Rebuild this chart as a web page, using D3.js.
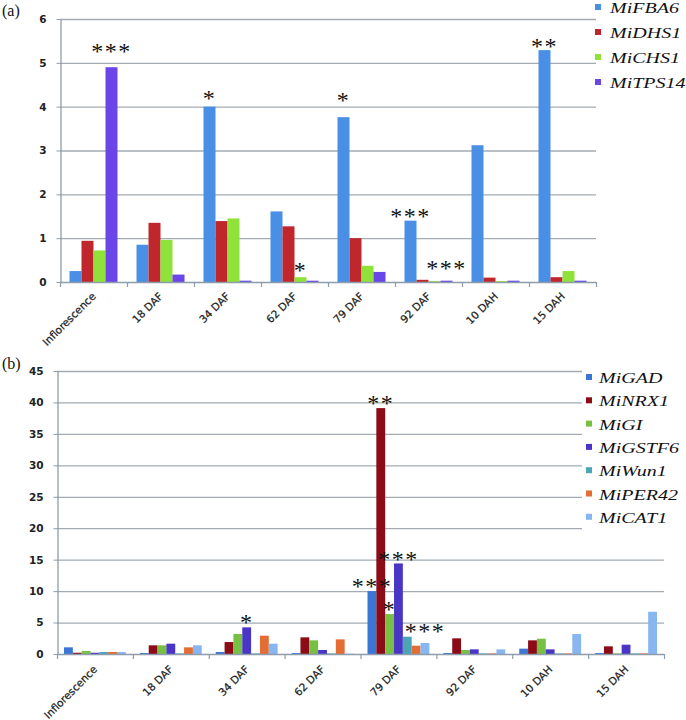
<!DOCTYPE html>
<html>
<head>
<meta charset="utf-8">
<script src="https://cdn.jsdelivr.net/npm/d3@7/dist/d3.min.js"></script>
<style>
  html, body { margin: 0; padding: 0; background: #fff; }
  svg { display: block; }
</style>
</head>
<body>
<svg id="chart" width="686" height="720"></svg>
<script>
// ---------------- DATA ----------------
const categories = ["Inflorescence", "18 DAF", "34 DAF", "62 DAF", "79 DAF", "92 DAF", "10 DAH", "15 DAH"];

// Panel (a)
const seriesA = ["MiFBA6", "MiDHS1", "MiCHS1", "MiTPS14"];
const miFBA6  = [0.25, 0.85, 4.00, 1.61, 3.76, 1.40, 3.12, 5.29];
const miDHS1  = [0.94, 1.35, 1.39, 1.27, 1.00, 0.05, 0.10, 0.11];
const miCHS1  = [0.72, 0.96, 1.45, 0.11, 0.37, 0.02, 0.02, 0.25];
const miTPS14 = [4.90, 0.17, 0.03, 0.03, 0.23, 0.03, 0.03, 0.03];
const yTicksA = [0, 1, 2, 3, 4, 5, 6];
// significance marks: [category, series, text, value where the mark sits]
const starsA = [
  ["Inflorescence", "MiTPS14", "***", 5.34],
  ["34 DAF", "MiFBA6", "*", 4.27],
  ["62 DAF", "MiCHS1", "*", 0.34],
  ["79 DAF", "MiFBA6", "*", 4.22],
  ["92 DAF", "MiFBA6", "***", 1.58],
  ["92 DAF", "MiTPS14", "***", 0.39],
  ["15 DAH", "MiFBA6", "**", 5.46]
];

// Panel (b)
const seriesB = ["MiGAD", "MiNRX1", "MiGI", "MiGSTF6", "MiWun1", "MiPER42", "MiCAT1"];
const miGAD   = [1.06, 0.15, 0.32, 0.15, 10.0, 0.15, 0.85, 0.15];
const miNRX1  = [0.20, 1.38, 1.90, 2.65, 39.1, 2.49, 2.17, 1.22];
const miGI    = [0.48, 1.38, 3.18, 2.17, 6.35, 0.64, 2.43, 0.10];
const miGSTF6 = [0.20, 1.64, 4.24, 0.64, 14.4, 0.74, 0.74, 1.48];
const miWun1  = [0.32, 0.10, 0.10, 0.10, 2.75, 0.10, 0.10, 0.10];
const miPER42 = [0.32, 1.06, 2.91, 2.33, 1.32, 0.10, 0.10, 0.10];
const miCAT1  = [0.32, 1.38, 1.64, 0.05, 1.75, 0.74, 3.18, 6.72];
const yTicksB = [0, 5, 10, 15, 20, 25, 30, 35, 40, 45];
const starsB = [
  ["34 DAF", "MiGSTF6", "*", 5.56],
  ["79 DAF", "MiGAD", "***", 11.4],
  ["79 DAF", "MiNRX1", "**", 40.5],
  ["79 DAF", "MiGI", "*", 7.6],
  ["79 DAF", "MiGSTF6", "***", 15.6],
  ["79 DAF", "MiCAT1", "***", 4.1]
];

// ---------------- STYLE ----------------
const colorsA = ["#4a8fe6", "#c0272d", "#8fe23a", "#6a45e8"];
const colorsB = ["#3a76d6", "#8b0b17", "#77c043", "#4a36c6", "#4aa6b6", "#e46c35", "#87b6f0"];
const gridColor = "#a2abb3";
const axisColor = "#8d9dab";
const labelFont = "'DejaVu Sans', Verdana, sans-serif";
const serifFont = "'Liberation Serif', 'Times New Roman', serif";

const svg = d3.select("#chart");
svg.append("rect").attr("width", 686).attr("height", 720).attr("fill", "#fff");

function drawPanel(opt) {
  const g = svg.append("g");
  const x0 = d3.scaleBand().domain(categories).range([opt.left, opt.right]).padding(0);
  const x1 = d3.scaleBand().domain(opt.series)
    .range([opt.gap, x0.bandwidth() - opt.gap]).padding(0);
  const y = d3.scaleLinear().domain([0, opt.yMax]).range([opt.bottom, opt.top]);

  // gridlines
  g.append("g").selectAll("line").data(opt.yTicks.filter(t => t > 0)).join("line")
    .attr("x1", opt.left).attr("x2", d => opt.gridEnd(y(d)))
    .attr("y1", d => y(d) + 0.5).attr("y2", d => y(d) + 0.5)
    .attr("stroke", gridColor).attr("stroke-width", 1.3);

  // y axis
  const ya = g.append("g").attr("transform", `translate(${opt.left + 0.5},0)`)
    .call(d3.axisLeft(y).tickValues(opt.yTicks).tickFormat(d3.format("d"))
      .tickSize(4).tickPadding(10).tickSizeOuter(0));
  ya.select(".domain").attr("stroke", axisColor).attr("stroke-width", 1.3);
  ya.selectAll(".tick line").attr("stroke", axisColor);
  ya.selectAll(".tick text").attr("font-family", labelFont).attr("font-size", 10.5)
    .attr("font-weight", "bold").attr("fill", "#222");

  // bars
  const rows = categories.map((c, i) => ({ c, vals: opt.values.map(v => v[i]) }));
  const cg = g.append("g").selectAll("g").data(rows).join("g")
    .attr("transform", d => `translate(${x0(d.c)},0)`);
  cg.selectAll("rect").data(d => d.vals.map((v, k) => ({ k, v }))).join("rect")
    .attr("x", d => x1(opt.series[d.k]))
    .attr("width", x1.bandwidth())
    .attr("y", d => y(d.v))
    .attr("height", d => y(0) - y(d.v))
    .attr("fill", d => opt.colors[d.k]);

  // x axis line + boundary ticks
  g.append("line").attr("x1", opt.left).attr("x2", opt.right)
    .attr("y1", y(0) + 0.5).attr("y2", y(0) + 0.5)
    .attr("stroke", axisColor).attr("stroke-width", 1.3);
  const bounds = categories.map(c => x0(c)).concat([opt.right]);
  g.append("g").selectAll("line").data(bounds).join("line")
    .attr("x1", d => d + 0.5).attr("x2", d => d + 0.5)
    .attr("y1", y(0)).attr("y2", y(0) + 5)
    .attr("stroke", axisColor).attr("stroke-width", 1.2);

  // x labels
  g.append("g").selectAll("text").data(categories).join("text")
    .attr("transform", d => `translate(${x0(d) + x0.bandwidth() / 2 + opt.labDx},${y(0) + opt.labDy}) rotate(-45)`)
    .attr("text-anchor", "end")
    .attr("font-family", labelFont).attr("font-size", 10.5)
    .attr("fill", "#1a1a1a").attr("stroke", "#1a1a1a").attr("stroke-width", 0.25)
    .text(d => d);

  // stars
  const fs = 24;
  g.append("g").selectAll("text").data(opt.stars).join("text")
    .attr("x", d => x0(d[0]) + x1(d[1]) + x1.bandwidth() / 2)
    .attr("y", d => y(d[3]) + fs * 0.47)
    .attr("text-anchor", "middle")
    .attr("font-family", serifFont).attr("font-size", fs)
    .attr("letter-spacing", 1.5)
    .attr("fill", "#111")
    .text(d => d[2]);

  // legend
  const lg = g.append("g");
  opt.series.forEach((s, k) => {
    const by = opt.legY + k * opt.legStep;
    lg.append("rect").attr("x", opt.legX).attr("y", by - 9).attr("width", 6).attr("height", 6)
      .attr("fill", opt.colors[k]);
    lg.append("text")
      .attr("transform", `translate(${opt.legX + opt.legTextDx},${by}) scale(1.43,1)`)
      .attr("font-family", serifFont).attr("font-style", "italic").attr("font-size", 14)
      .attr("fill", "#111")
      .text(s);
  });

  // panel label
  g.append("text").attr("x", 2).attr("y", opt.panelY)
    .attr("font-family", serifFont).attr("font-size", 16).attr("fill", "#111")
    .text(opt.panel);
}

drawPanel({
  panel: "(a)", panelY: 16,
  series: seriesA, values: [miFBA6, miDHS1, miCHS1, miTPS14], colors: colorsA,
  left: 60, right: 596, top: 19, bottom: 282, yMax: 6, yTicks: yTicksA, gap: 9.5,
  gridEnd: () => 596,
  labDx: 3, labDy: 15,
  stars: starsA,
  legX: 595, legY: 13, legStep: 25, legTextDx: 15
});

drawPanel({
  panel: "(b)", panelY: 369,
  series: seriesB,
  values: [miGAD, miNRX1, miGI, miGSTF6, miWun1, miPER42, miCAT1], colors: colorsB,
  left: 57, right: 664, top: 371, bottom: 654, yMax: 45, yTicks: yTicksB, gap: 7,
  gridEnd: yy => (yy < 532 ? 582 : 664),
  labDx: 3, labDy: 16,
  stars: starsB,
  legX: 586, legY: 383, legStep: 23.3, legTextDx: 13
});
</script>
</body>
</html>
